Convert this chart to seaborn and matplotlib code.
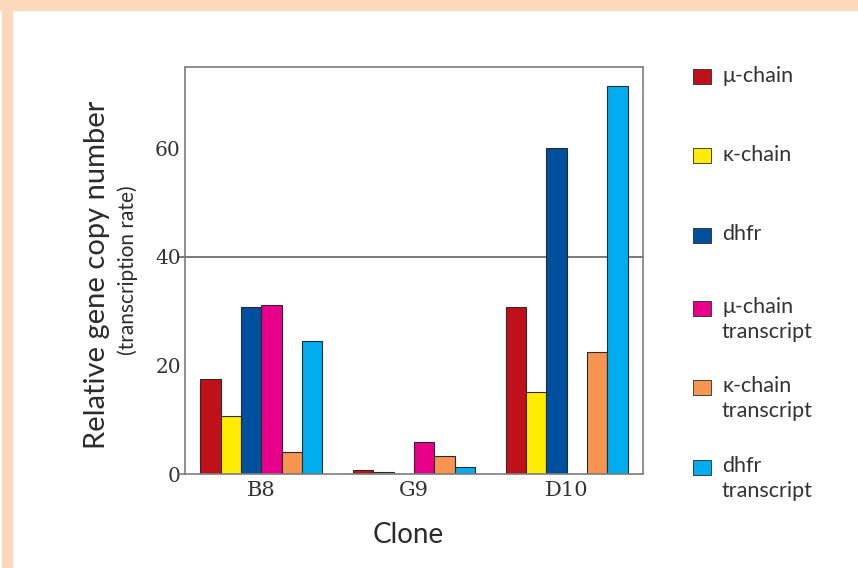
import matplotlib
matplotlib.use("Agg")
import matplotlib.pyplot as plt
from matplotlib.patches import Rectangle
import seaborn as sns
import pandas as pd

# Clones and measured series
clones = ["B8", "G9", "D10"]
series = ["\u03bc-chain", "\u03ba-chain", "dhfr",
          "\u03bc-chain\ntranscript", "\u03ba-chain\ntranscript", "dhfr\ntranscript"]
mu_chain = [17.5, 0.7, 30.8]
kappa_chain = [10.7, 0.4, 15.2]
dhfr = [30.8, 0.0, 60.0]
mu_transcript = [31.1, 5.9, 0.0]
kappa_transcript = [4.0, 3.4, 22.5]
dhfr_transcript = [24.5, 1.2, 71.5]
colors = ["#c0111a", "#ffec00", "#0050a0", "#e8008a", "#f79550", "#00aeef"]
y_ticks = [0, 20, 40, 60]

values = [mu_chain, kappa_chain, dhfr, mu_transcript, kappa_transcript, dhfr_transcript]
rows = []
for name, vals in zip(series, values):
    for clone, v in zip(clones, vals):
        rows.append({"Clone": clone, "Series": name, "Value": v})
df = pd.DataFrame(rows)

sns.set_theme(style="white")
plt.rcParams["font.family"] = ["Lato", "DejaVu Sans"]

W, H = 858, 568
fig = plt.figure(figsize=(W / 100, H / 100), dpi=100, facecolor="white")

# peach frame strips
peach = "#fdd8bb"
fig.patches.append(Rectangle((0, 1 - 10 / H), 1, 10 / H, transform=fig.transFigure,
                             color=peach, zorder=0))
fig.patches.append(Rectangle((2 / W, 0), 10 / W, 1, transform=fig.transFigure,
                             color=peach, zorder=0))

ax = fig.add_axes([185 / W, 1 - 474 / H, (643 - 185) / W, (474 - 67) / H])
sns.barplot(data=df, x="Clone", y="Value", hue="Series", hue_order=series,
            order=clones, palette=colors, saturation=1, width=0.8, gap=0, ax=ax,
            edgecolor="#2a2a2a", linewidth=0.8, legend=False, errorbar=None)

ax.set_xlim(-0.5, 2.5)
ax.set_ylim(0, 75)
ax.set_xlabel("")
ax.set_ylabel("")

gray = "#7d7d7d"
for s in ax.spines.values():
    s.set_color(gray)
    s.set_linewidth(1.2)
    s.set_visible(True)

ax.axhline(40, xmin=-0.013, xmax=1, color="#555555", lw=1.1, clip_on=False, zorder=0.5)
ax.plot([-0.5 - 0.04, -0.5], [0, 0], color=gray, lw=1.2, clip_on=False)

ax.set_yticks(y_ticks)
ax.set_yticklabels([str(t) for t in y_ticks], family=["DejaVu Serif"],
                   fontsize=14.5, color="#333333")
ax.set_xticks(range(len(clones)))
ax.set_xticklabels(clones, family=["DejaVu Serif"], fontsize=15, color="#333333")
ax.set_xticks([0.5, 1.5], minor=True)
ax.tick_params(axis="both", which="major", length=0, pad=3)
ax.tick_params(axis="x", which="minor", length=4, color=gray, width=1, direction="out")
ax.tick_params(axis="x", which="major", pad=5)

fig.text(97 / W, 1 - 275 / H, "Relative gene copy number", rotation=90,
         ha="center", va="center", fontsize=21, color="#2b2b2b")
fig.text(128 / W, 1 - 270 / H, "(transcription rate)", rotation=90,
         ha="center", va="center", fontsize=15, color="#2b2b2b")
fig.text(408 / W, 1 - 535 / H, "Clone", ha="center", va="center",
         fontsize=20, color="#2b2b2b")

# legend column
first_line = [77, 156, 235, 308, 387, 467]
for name, col, yc in zip(series, colors, first_line):
    fig.patches.append(Rectangle((693 / W, 1 - (yc + 7.5) / H), 18 / W, 15 / H,
                                 transform=fig.transFigure, facecolor=col,
                                 edgecolor="#2a2a2a", linewidth=0.6))
    fig.text(722 / W, 1 - (yc - 11) / H, name, ha="left", va="top",
             fontsize=15.5, color="#333333", linespacing=1.3)

fig.savefig("out.png", dpi=100, facecolor="white")
